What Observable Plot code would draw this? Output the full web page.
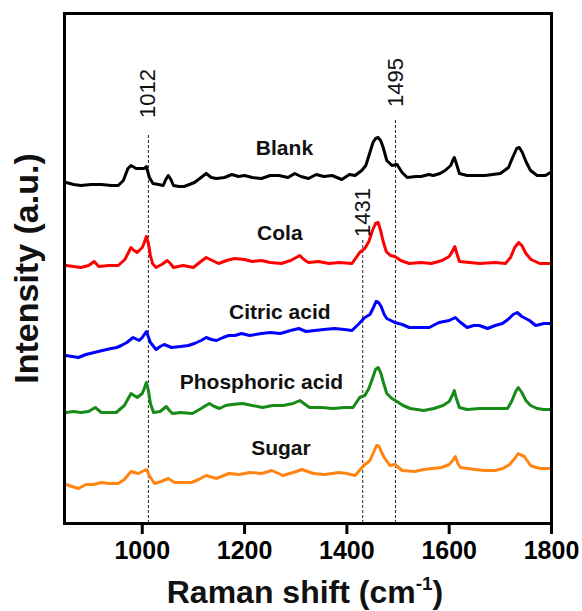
<!DOCTYPE html>
<html><head><meta charset="utf-8">
<script src="https://cdn.jsdelivr.net/npm/d3@7"></script>
<script src="https://cdn.jsdelivr.net/npm/@observablehq/plot@0.6"></script>
<style>
body{margin:0;background:#fff}
svg text{font-family:"Liberation Sans",Arial,sans-serif}
</style>
</head><body><div id="chart"></div>
<script>
// Raman shift (cm-1) and relative intensity (a.u., offset stacked)
const seriesNames = ["Blank", "Cola", "Citric acid", "Phosphoric acid", "Sugar"];
const seriesColors = ["#000000", "#ff0000", "#0000ff", "#178a17", "#ff8412"];

const blankX = [851,866,880,900,920,940,953,963,972,978,988,1004,1008,1014,1021,1032,1041,1046,1051,1056,1061,1072,1082,1092,1102,1115,1125,1135,1145,1161,1175,1188,1200,1215,1233,1250,1267,1285,1298,1310,1325,1340,1355,1371,1390,1405,1416,1429,1437,1445,1451,1456,1461,1466,1471,1478,1488,1498,1508,1518,1535,1545,1560,1569,1582,1592,1603,1607,1610,1614,1620,1635,1655,1670,1685,1700,1716,1724,1732,1737,1743,1750,1759,1772,1788,1798];
const blankY = [341,339,338,339,339,338,338,343,355,358,355,355,357,346,340,339,338,344,348,344,338,337,337,339,341,346,350,346,345,346,349,347,348,346,345,348,348,346,350,347,345,349,347,348,344,349,348,353,358,371,381,385,386,383,376,363,358,359,351,346,347,347,349,348,350,353,358,363,366,360,350,348,348,348,349,350,356,366,375,376,371,362,353,348,348,351];

const colaX = [851,866,880,895,906,915,935,953,966,978,984,990,1000,1004,1008,1012,1016,1020,1027,1038,1049,1055,1061,1070,1080,1090,1100,1112,1125,1137,1149,1165,1180,1200,1215,1233,1250,1272,1290,1301,1308,1316,1325,1345,1365,1385,1410,1425,1435,1443,1450,1456,1461,1466,1471,1477,1485,1494,1505,1522,1545,1565,1586,1600,1606,1611,1615,1620,1640,1660,1690,1710,1720,1728,1736,1742,1750,1760,1777,1788,1798];
const colaY = [258,257,256,258,262,257,258,258,264,276,273,271,276,281,287,280,268,260,256,259,263,260,256,257,258,257,256,261,266,263,260,263,265,264,262,263,261,260,263,266,268,264,261,262,260,261,260,271,275,282,293,300,301,293,282,272,268,267,263,260,261,260,263,267,272,277,270,262,261,260,261,260,266,276,281,278,270,264,260,260,260];

const citricX = [851,863,875,890,906,922,939,950,959,970,982,994,1000,1008,1016,1027,1035,1043,1057,1075,1090,1102,1115,1125,1135,1145,1158,1169,1181,1194,1210,1233,1250,1270,1290,1306,1320,1337,1355,1376,1395,1410,1424,1435,1445,1452,1457,1462,1467,1473,1478,1494,1508,1522,1540,1561,1580,1600,1612,1620,1635,1648,1659,1675,1690,1704,1715,1725,1733,1742,1757,1769,1785,1798];
const citricY = [168,167,166,169,171,173,175,176,178,181,186,183,186,192,181,174,177,179,176,177,178,180,183,186,184,183,186,188,188,190,188,190,191,190,193,195,192,193,194,195,194,193,200,206,209,216,222,221,217,209,205,201,199,196,196,196,201,203,206,202,196,198,198,195,198,200,204,209,211,207,203,198,200,200];

const phosX = [851,866,880,895,908,920,935,949,965,978,990,1000,1004,1008,1012,1016,1022,1035,1047,1053,1059,1075,1098,1115,1131,1141,1151,1163,1175,1196,1215,1235,1255,1275,1295,1308,1316,1327,1350,1373,1395,1412,1425,1435,1443,1450,1456,1461,1466,1472,1478,1488,1498,1510,1524,1550,1570,1588,1600,1606,1610,1614,1620,1635,1660,1690,1714,1722,1730,1735,1742,1750,1759,1772,1785,1798];
const phosY = [111,112,111,112,116,111,111,111,118,130,126,130,135,141,133,120,111,112,117,113,110,111,110,115,120,117,115,118,119,120,118,116,118,118,120,123,120,116,116,115,116,116,126,128,135,145,154,156,151,140,130,125,122,118,115,113,115,118,122,128,133,125,116,114,115,115,115,122,132,136,131,123,118,115,114,114];

const sugarX = [851,863,875,890,905,920,935,953,965,978,992,1000,1008,1016,1024,1037,1051,1063,1080,1096,1110,1125,1145,1169,1190,1210,1233,1253,1275,1295,1312,1335,1357,1384,1400,1416,1433,1445,1452,1458,1463,1468,1473,1484,1494,1508,1533,1550,1567,1585,1600,1607,1612,1617,1622,1650,1670,1690,1705,1718,1728,1735,1742,1747,1759,1770,1780,1798];
const sugarY = [39,37,35,39,39,41,40,40,44,52,50,52,54,46,40,42,45,41,41,41,44,48,45,50,49,51,50,53,48,51,54,50,49,51,50,48,58,63,71,78,77,71,66,58,59,53,52,54,55,56,59,63,67,60,56,54,53,53,55,59,65,70,68,67,58,56,55,55];

// label positions (Raman shift, intensity)
const labelX = [1278, 1269, 1269, 1233, 1271];
const labelY = [375, 290, 211, 141, 75];

// reference lines
const refShift = [1012, 1431, 1495];
const refTop = [390, 283, 405];
const refLabelY = [430, 311, 441];

const xTicks = [1000, 1200, 1400, 1600, 1800];

const allX = [blankX, colaX, citricX, phosX, sugarX];
const allY = [blankY, colaY, citricY, phosY, sugarY];
const rows = [];
seriesNames.forEach((name, s) => {
  allX[s].forEach((x, i) => rows.push({series: name, x, y: allY[s][i]}));
});

const chart = Plot.plot({
  width: 582,
  height: 611,
  marginLeft: 64,
  marginRight: 31,
  marginTop: 13,
  marginBottom: 88,
  style: {background: "white", fontFamily: "'Liberation Sans', Arial, sans-serif", overflow: "visible"},
  x: {domain: [848, 1800]},
  y: {domain: [0, 510]},
  color: {domain: seriesNames, range: seriesColors},
  marks: [
    Plot.ruleX(refShift, {x: d => d, y1: 0, y2: (d, i) => refTop[i], stroke: "#222", strokeWidth: 1, strokeDasharray: "3,2"}),
    Plot.line(rows, {x: "x", y: "y", z: "series", stroke: "series", strokeWidth: 3, strokeLinejoin: "round"}),
    Plot.text(refShift, {x: d => d, y: (d, i) => refLabelY[i], text: d => String(d), rotate: -90, fontSize: 22, fill: "#111"}),
    Plot.text(seriesNames, {x: (d, i) => labelX[i], y: (d, i) => labelY[i], text: d => d, fontSize: 21, fontWeight: "bold", fill: "#111"}),
    Plot.frame({stroke: "#000", strokeWidth: 3}),
    Plot.axisX({ticks: xTicks, tickSize: 11, strokeWidth: 3, tickPadding: 7, fontSize: 25, fontWeight: "bold", label: null, tickFormat: d => String(d)}),
    Plot.axisY({ticks: [], label: null}),
    Plot.text(["Raman shift (cm-1)"], {frameAnchor: "bottom", dy: 79, dx: -3, lineAnchor: "bottom", fontSize: 32, fontWeight: "bold", fill: "#111"}),
    Plot.text(["Intensity (a.u.)"], {frameAnchor: "left", dx: -37, rotate: -90, textAnchor: "middle", fontSize: 34, fontWeight: "bold", fill: "#111"})
  ]
});

// superscript on the axis title
d3.select(chart).selectAll("text").filter(function() { return this.textContent === "Raman shift (cm-1)"; })
  .each(function() {
    const t = d3.select(this);
    t.text(null);
    t.append("tspan").text("Raman shift (cm");
    t.append("tspan").attr("dy", "-13").attr("font-size", 19).text("-1");
    t.append("tspan").attr("dy", "13").text(")");
  });

document.getElementById("chart").append(chart);
</script>
</body></html>
